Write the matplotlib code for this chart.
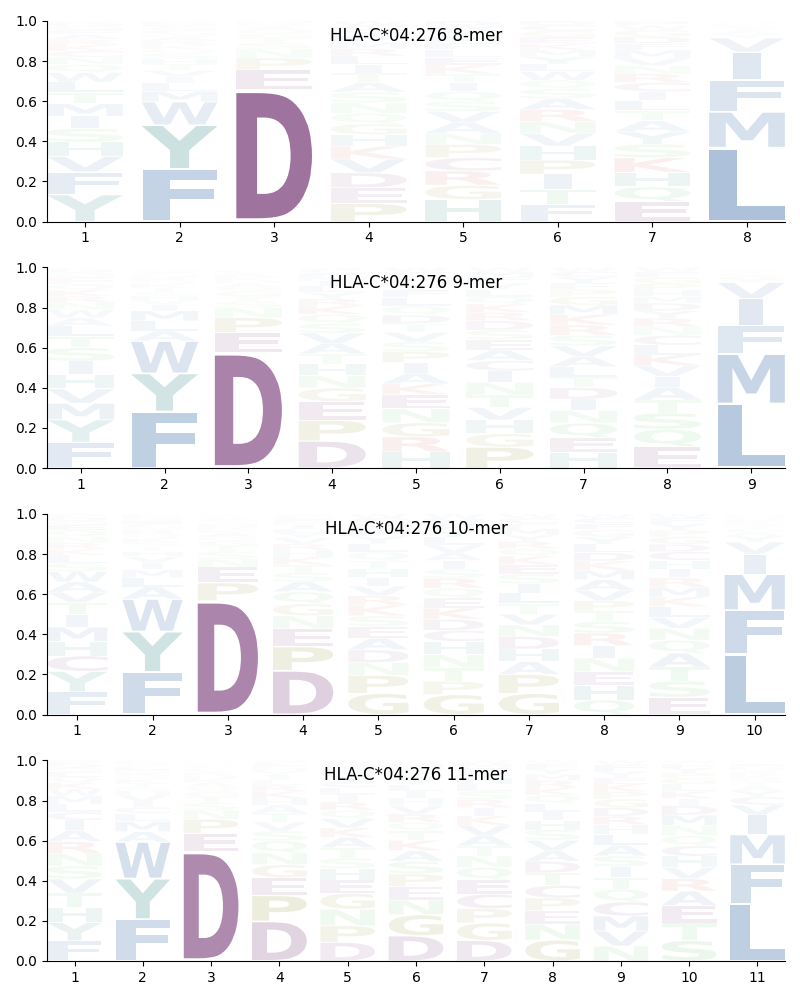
import matplotlib
matplotlib.use('Agg')
import matplotlib.pyplot as plt
from matplotlib.textpath import TextPath
from matplotlib.patches import PathPatch
from matplotlib.font_manager import FontProperties
from matplotlib.transforms import Affine2D

# letter frequencies per position
freq_8mer = [
    {'Y': .13, 'F': .11, 'H': .07, 'V': .075, 'I': .06, 'S': .065, 'T': .055, 'M': .06, 'L': .05, 'W': .045,
     'Q': .04, 'N': .035, 'C': .03, 'K': .03, 'R': .025, 'A': .025, 'E': .02, 'G': .02, 'D': .015, 'P': .01},
    {'F': .25, 'Y': .21, 'W': .11, 'M': .05, 'L': .04, 'I': .03, 'V': .03, 'T': .03, 'H': .025, 'S': .025,
     'Q': .02, 'K': .02, 'R': .02, 'A': .02, 'N': .015, 'C': .015, 'G': .015, 'E': .01, 'D': .01, 'P': .01},
    {'D': .66, 'E': .10, 'P': .06, 'N': .045, 'S': .03, 'T': .025, 'G': .02, 'Q': .02, 'A': .015, 'K': .01,
     'R': .01, 'H': .01},
    {'P': .085, 'E': .075, 'D': .07, 'V': .065, 'K': .06, 'H': .055, 'G': .05, 'Q': .05, 'N': .05, 'S': .05,
     'A': .045, 'T': .045, 'I': .04, 'L': .04, 'R': .035, 'M': .03, 'F': .03, 'Y': .025, 'C': .025, 'W': .02},
    {'H': .10, 'G': .065, 'R': .065, 'C': .06, 'P': .06, 'N': .05, 'A': .05, 'V': .05, 'S': .045, 'Q': .045,
     'I': .04, 'T': .04, 'K': .04, 'E': .035, 'L': .035, 'F': .03, 'M': .03, 'Y': .03, 'W': .02, 'D': .02},
    {'F': .08, 'T': .07, 'I': .07, 'P': .065, 'H': .065, 'V': .06, 'N': .055, 'R': .055, 'A': .05, 'S': .045,
     'Q': .04, 'W': .04, 'L': .035, 'Y': .035, 'M': .03, 'K': .03, 'E': .03, 'G': .03, 'C': .025, 'D': .02},
    {'E': .09, 'Q': .065, 'H': .065, 'K': .065, 'S': .06, 'Y': .055, 'A': .05, 'T': .045, 'L': .045, 'I': .04,
     'C': .04, 'R': .04, 'N': .035, 'V': .035, 'M': .035, 'F': .03, 'D': .03, 'G': .03, 'W': .02, 'P': .02},
    {'L': .37, 'M': .18, 'F': .16, 'I': .14, 'V': .07, 'Y': .02, 'A': .015, 'T': .01, 'S': .01, 'C': .01,
     'K': .005, 'R': .005, 'Q': .005, 'W': .005},
]

freq_9mer = [
    {'F': .125, 'Y': .11, 'M': .08, 'V': .07, 'H': .07, 'I': .065, 'S': .065, 'T': .055, 'L': .05, 'A': .04,
     'W': .04, 'N': .035, 'R': .03, 'K': .03, 'Q': .025, 'C': .02, 'E': .02, 'G': .02, 'D': .015, 'P': .01},
    {'F': .28, 'Y': .19, 'W': .16, 'A': .05, 'L': .05, 'M': .05, 'I': .03, 'V': .025, 'H': .02, 'S': .02,
     'T': .02, 'K': .02, 'Q': .015, 'R': .015, 'N': .01, 'C': .01, 'E': .01, 'G': .01, 'D': .005, 'P': .005},
    {'D': .575, 'E': .10, 'P': .075, 'N': .05, 'S': .03, 'T': .025, 'G': .025, 'Q': .02, 'A': .02, 'H': .015,
     'K': .015, 'R': .015, 'Y': .01, 'C': .01, 'L': .005, 'V': .005, 'I': .005},
    {'D': .13, 'P': .10, 'E': .09, 'G': .065, 'N': .06, 'H': .055, 'T': .05, 'A': .05, 'V': .05, 'S': .045,
     'Q': .045, 'K': .04, 'R': .035, 'Y': .03, 'L': .03, 'I': .025, 'M': .02, 'F': .02, 'C': .015, 'W': .01},
    {'H': .075, 'R': .07, 'G': .065, 'N': .065, 'E': .065, 'K': .05, 'A': .05, 'I': .05, 'P': .05, 'S': .045,
     'V': .045, 'T': .04, 'D': .04, 'Q': .04, 'L': .04, 'F': .035, 'Y': .03, 'M': .03, 'C': .025, 'W': .02},
    {'P': .10, 'G': .065, 'H': .065, 'V': .06, 'T': .06, 'N': .06, 'I': .055, 'C': .05, 'A': .05, 'E': .05,
     'S': .045, 'D': .045, 'R': .04, 'K': .04, 'Q': .035, 'L': .035, 'Y': .03, 'F': .03, 'M': .025, 'W': .02},
    {'H': .075, 'E': .07, 'Q': .07, 'N': .06, 'I': .055, 'D': .055, 'T': .05, 'L': .05, 'A': .05, 'V': .05,
     'S': .05, 'R': .05, 'K': .05, 'M': .045, 'G': .04, 'P': .035, 'F': .03, 'Y': .03, 'C': .025, 'W': .02},
    {'E': .10, 'Q': .08, 'S': .075, 'T': .06, 'A': .06, 'I': .05, 'V': .05, 'K': .05, 'L': .045, 'C': .045,
     'N': .04, 'R': .04, 'Y': .035, 'D': .035, 'M': .03, 'H': .03, 'P': .03, 'G': .03, 'F': .025, 'W': .02},
    {'L': .32, 'M': .25, 'F': .14, 'I': .135, 'V': .08, 'Y': .02, 'A': .015, 'C': .01, 'T': .01, 'S': .01,
     'K': .005, 'R': .005},
]

freq_10mer = [
    {'F': .11, 'Y': .10, 'C': .075, 'H': .07, 'M': .07, 'I': .06, 'T': .06, 'V': .05, 'A': .05, 'W': .05,
     'S': .04, 'L': .04, 'K': .03, 'R': .03, 'N': .03, 'Q': .03, 'E': .025, 'G': .02, 'D': .02, 'P': .015},
    {'F': .21, 'Y': .20, 'W': .16, 'A': .06, 'L': .045, 'M': .04, 'I': .035, 'V': .03, 'H': .025, 'T': .025,
     'S': .02, 'K': .02, 'Q': .02, 'R': .02, 'N': .015, 'C': .015, 'E': .015, 'G': .015, 'D': .01, 'P': .01},
    {'D': .57, 'P': .09, 'E': .08, 'N': .04, 'S': .035, 'T': .03, 'G': .025, 'Q': .02, 'A': .02, 'K': .015,
     'R': .015, 'H': .015, 'Y': .01, 'C': .01, 'V': .01, 'L': .005, 'I': .005, 'M': .005, 'F': .005},
    {'D': .22, 'P': .12, 'E': .09, 'N': .065, 'G': .06, 'Q': .06, 'A': .05, 'S': .045, 'T': .04, 'K': .04,
     'H': .035, 'R': .03, 'V': .03, 'Y': .025, 'L': .02, 'I': .02, 'M': .015, 'F': .015, 'C': .015, 'W': .01},
    {'G': .10, 'P': .085, 'N': .06, 'D': .06, 'A': .055, 'E': .055, 'S': .05, 'K': .05, 'R': .045, 'V': .045,
     'I': .04, 'H': .04, 'T': .04, 'Q': .04, 'L': .04, 'Y': .035, 'F': .03, 'M': .03, 'C': .025, 'W': .02},
    {'G': .09, 'P': .06, 'T': .06, 'N': .06, 'H': .06, 'C': .05, 'D': .05, 'K': .05, 'E': .045, 'Q': .045,
     'R': .045, 'S': .04, 'I': .04, 'A': .035, 'V': .035, 'L': .035, 'Y': .03, 'F': .03, 'M': .025, 'W': .02},
    {'G': .10, 'P': .09, 'A': .06, 'H': .06, 'D': .06, 'N': .055, 'V': .05, 'T': .05, 'L': .05, 'I': .045,
     'S': .045, 'E': .045, 'K': .04, 'Q': .035, 'R': .035, 'Y': .03, 'M': .03, 'F': .025, 'C': .025, 'W': .02},
    {'Q': .07, 'H': .07, 'E': .065, 'N': .065, 'I': .06, 'R': .06, 'S': .055, 'T': .05, 'P': .05, 'V': .05,
     'A': .05, 'M': .045, 'K': .045, 'D': .04, 'L': .04, 'Y': .035, 'G': .035, 'F': .03, 'C': .025, 'W': .02},
    {'E': .08, 'S': .075, 'T': .065, 'A': .065, 'Q': .06, 'N': .055, 'V': .05, 'L': .05, 'K': .045, 'M': .045,
     'R': .045, 'I': .04, 'H': .04, 'C': .04, 'D': .035, 'G': .035, 'P': .03, 'Y': .03, 'F': .025, 'W': .02},
    {'L': .30, 'F': .22, 'M': .18, 'I': .10, 'V': .06, 'Y': .03, 'A': .02, 'C': .015, 'T': .015, 'S': .01,
     'K': .01, 'R': .01, 'Q': .01, 'H': .01, 'N': .005, 'E': .005},
]

freq_11mer = [
    {'F': .10, 'Y': .09, 'H': .075, 'T': .07, 'V': .07, 'S': .065, 'N': .06, 'R': .06, 'A': .055, 'I': .05,
     'C': .04, 'L': .04, 'M': .04, 'W': .035, 'K': .03, 'Q': .03, 'E': .025, 'G': .02, 'D': .02, 'P': .015},
    {'F': .205, 'Y': .20, 'W': .18, 'A': .05, 'M': .05, 'L': .04, 'C': .03, 'I': .03, 'V': .03, 'H': .02,
     'S': .02, 'T': .02, 'K': .02, 'Q': .015, 'R': .015, 'N': .015, 'E': .015, 'G': .01, 'D': .01, 'P': .01},
    {'D': .54, 'E': .09, 'P': .07, 'N': .045, 'S': .035, 'T': .03, 'G': .025, 'Q': .025, 'A': .02, 'K': .02,
     'H': .015, 'R': .015, 'Y': .01, 'C': .01, 'L': .01, 'V': .01, 'I': .005, 'M': .005, 'F': .005, 'W': .005},
    {'D': .20, 'P': .13, 'E': .09, 'G': .065, 'N': .06, 'Q': .06, 'S': .05, 'V': .045, 'T': .045, 'A': .04,
     'H': .035, 'K': .035, 'R': .03, 'L': .025, 'I': .025, 'Y': .02, 'M': .015, 'F': .015, 'C': .015, 'W': .01},
    {'D': .09, 'P': .08, 'N': .08, 'G': .075, 'E': .065, 'H': .055, 'S': .05, 'T': .05, 'A': .05, 'K': .045,
     'V': .045, 'Q': .04, 'R': .04, 'I': .035, 'L': .035, 'C': .03, 'Y': .03, 'F': .025, 'M': .025, 'W': .02},
    {'D': .12, 'G': .10, 'N': .07, 'E': .065, 'P': .06, 'S': .06, 'A': .05, 'K': .05, 'T': .045, 'Q': .04,
     'R': .04, 'V': .04, 'H': .035, 'I': .035, 'L': .03, 'Y': .03, 'C': .025, 'F': .025, 'M': .02, 'W': .015},
    {'D': .10, 'G': .085, 'P': .07, 'C': .07, 'E': .07, 'Q': .06, 'N': .055, 'T': .05, 'A': .05, 'V': .05,
     'K': .045, 'I': .04, 'R': .04, 'S': .04, 'L': .035, 'H': .03, 'Y': .025, 'F': .025, 'M': .02, 'W': .015},
    {'G': .10, 'N': .075, 'E': .065, 'P': .06, 'C': .06, 'T': .06, 'D': .055, 'A': .05, 'V': .05, 'S': .05,
     'H': .045, 'I': .04, 'L': .04, 'Q': .04, 'K': .035, 'R': .035, 'M': .03, 'Y': .025, 'F': .025, 'W': .015},
    {'N': .07, 'V': .07, 'M': .07, 'C': .065, 'Q': .06, 'T': .055, 'I': .05, 'S': .05, 'A': .05, 'L': .05,
     'H': .045, 'R': .04, 'D': .04, 'G': .04, 'P': .035, 'K': .035, 'E': .03, 'Y': .03, 'F': .03, 'W': .02},
    {'S': .10, 'T': .085, 'E': .085, 'A': .07, 'R': .06, 'V': .055, 'H': .055, 'C': .05, 'Q': .05, 'N': .05,
     'M': .05, 'D': .045, 'I': .035, 'K': .035, 'L': .035, 'G': .03, 'P': .025, 'Y': .025, 'F': .02, 'W': .015},
    {'L': .29, 'F': .20, 'M': .15, 'I': .10, 'V': .05, 'C': .04, 'Y': .03, 'A': .025, 'T': .02, 'S': .02,
     'K': .015, 'R': .015, 'Q': .01, 'H': .01, 'N': .01, 'E': .01, 'G': .005, 'D': .005, 'P': .005, 'W': .005},
]

panel_data = [freq_8mer, freq_9mer, freq_10mer, freq_11mer]
panel_titles = ['HLA-C*04:276 8-mer', 'HLA-C*04:276 9-mer', 'HLA-C*04:276 10-mer', 'HLA-C*04:276 11-mer']

# colour groups (NajafabadiEtAl2017 style)
color_groups = {
    'DEC': (0.42, 0.16, 0.42),
    'PG': (0.47, 0.47, 0.0),
    'MIWALFV': (0.13, 0.35, 0.61),
    'NTSQ': (0.25, 0.73, 0.28),
    'RK': (0.74, 0.18, 0.12),
    'HY': (0.09, 0.47, 0.46),
}
aa_color = {}
for letters, c in color_groups.items():
    for ch in letters:
        aa_color[ch] = c

font = FontProperties(family='DejaVu Sans', weight='bold')
width = 0.8
vpad = 0.05
# narrow letters are not stretched wider than an 'E' would be
e_width = TextPath((0, 0), 'E', size=1, prop=font).get_extents().width


def draw_letter(ax, ch, x, y0, h, color, alpha):
    path = TextPath((0, 0), ch, size=1, prop=font)
    bb = path.get_extents()
    sx = min(width / bb.width, width / e_width)
    w = bb.width * sx
    tr = Affine2D().translate(-bb.x0, -bb.y0) \
        .scale(sx, h * (1 - vpad) / bb.height) \
        .translate(x - w / 2, y0 + h * vpad / 2)
    patch = PathPatch(tr.transform_path(path), facecolor=color, edgecolor='none',
                      alpha=min(1.0, alpha), linewidth=0)
    ax.add_patch(patch)


fig, axes = plt.subplots(4, 1, figsize=(8, 10), dpi=100)
fig.subplots_adjust(left=0.059, right=0.981, top=0.979, bottom=0.039, hspace=0.229)

for ax, data, title in zip(axes, panel_data, panel_titles):
    for i, pos in enumerate(data):
        x = i + 1
        total = sum(pos.values())
        items = sorted(pos.items(), key=lambda kv: -kv[1])  # big letters at the bottom
        y = 0.0
        for ch, v in items:
            h = v / total
            draw_letter(ax, ch, x, y, h, aa_color[ch], h)
            y += h
    n = len(data)
    ax.set_xlim(1 - width / 2, n + width / 2)
    ax.set_ylim(0, 1)
    ax.set_xticks(range(1, n + 1))
    ax.set_xticklabels([str(k) for k in range(1, n + 1)])
    ax.set_yticks([0, 0.2, 0.4, 0.6, 0.8, 1.0])
    ax.spines['top'].set_visible(False)
    ax.spines['right'].set_visible(False)
    ax.text(0.5, 0.925, title, ha='center', va='center', fontsize=12, transform=ax.transAxes)

plt.savefig('out.png')
